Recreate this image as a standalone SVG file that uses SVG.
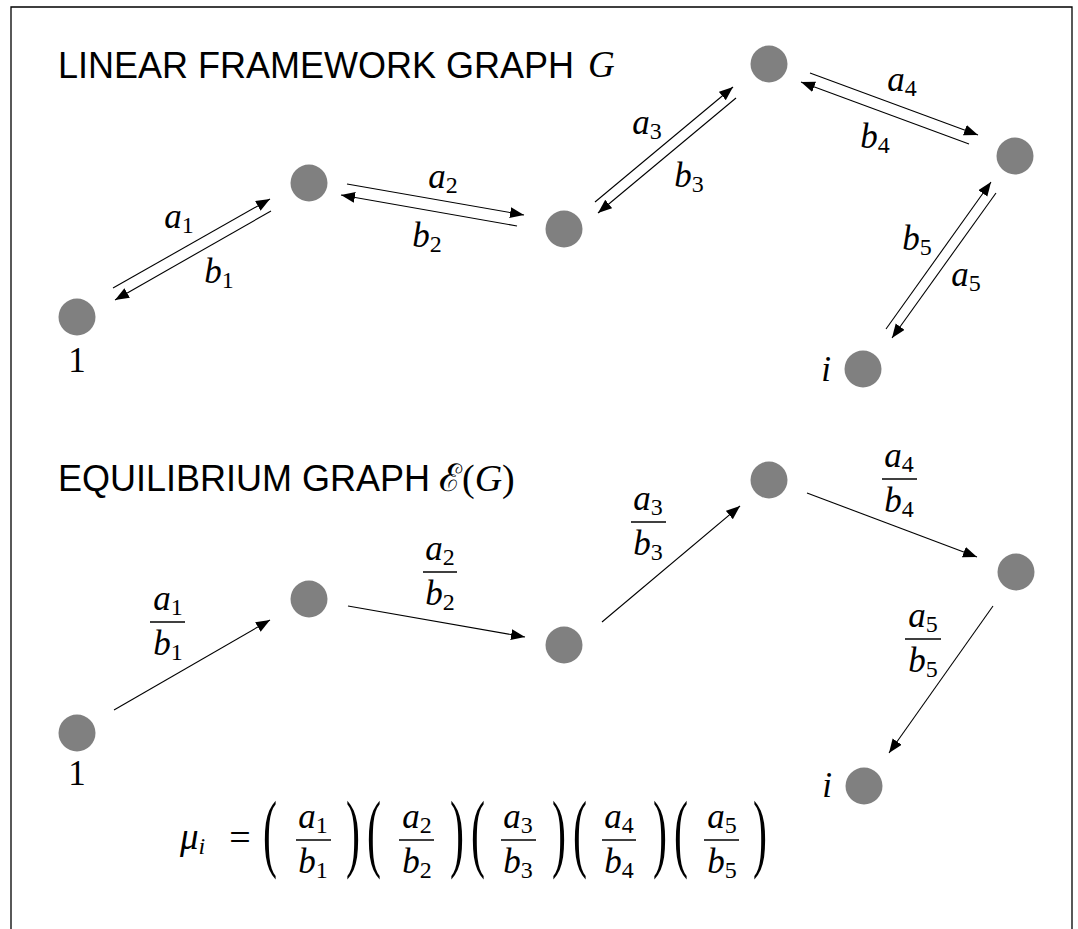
<svg xmlns="http://www.w3.org/2000/svg" width="1078" height="929" viewBox="0 0 1078 929">
<defs>
<style>
.title{font-family:"Liberation Sans",Arial,sans-serif;font-size:36px;fill:#000}
.m{font-family:"Liberation Serif","DejaVu Serif",serif;font-size:35px;fill:#000}
.v{font-style:italic}
.s{font-size:24px;font-style:normal}
.si{font-size:24px;font-style:italic}
.node{fill:#808080}
.edge{stroke:#000;stroke-width:1.1;fill:none;marker-end:url(#arr)}
.bar{stroke:#000;stroke-width:1.4}
.frame{fill:none;stroke:#000;stroke-width:1.3}
.par{font-family:"Liberation Serif","DejaVu Serif",serif;font-size:42px;fill:#000}
</style>
<marker id="arr" markerUnits="userSpaceOnUse" markerWidth="15" markerHeight="12" refX="14" refY="5.5" orient="auto"><path d="M0,0 L14,5.5 L0,11 z" fill="#000"/></marker>
</defs>
<rect width="1078" height="929" fill="#fff"/>
<path class="frame" d="M11,929 V7 H1072 V929"/>

<g id="titles">
<text class="title" x="58" y="78">LINEAR FRAMEWORK GRAPH</text>
<text class="m v" x="588" y="77" style="font-size:37px">G</text>
<text class="title" x="58" y="491">EQUILIBRIUM GRAPH</text>
<text class="m" x="439" y="491" style="font-size:38px">ℰ(<tspan class="v">G</tspan>)</text>
</g>

<g id="top-nodes">
<g id="t1"><circle class="node" cx="77" cy="317" r="18.5"/><text class="m" x="77" y="372" text-anchor="middle">1</text></g>
<g id="t2"><circle class="node" cx="309" cy="183" r="18.5"/></g>
<g id="t3"><circle class="node" cx="564" cy="229" r="18.5"/></g>
<g id="t4"><circle class="node" cx="769" cy="64" r="18.5"/></g>
<g id="t5"><circle class="node" cx="1015" cy="156" r="18.5"/></g>
<g id="ti"><circle class="node" cx="863" cy="369" r="18.5"/><text class="m v" x="826" y="381" text-anchor="middle">i</text></g>
</g>

<g id="bottom-nodes">
<g id="b1"><circle class="node" cx="77" cy="733" r="18.5"/><text class="m" x="77" y="785" text-anchor="middle">1</text></g>
<g id="b2"><circle class="node" cx="309" cy="599" r="18.5"/></g>
<g id="b3"><circle class="node" cx="564" cy="645" r="18.5"/></g>
<g id="b4"><circle class="node" cx="769" cy="480" r="18.5"/></g>
<g id="b5"><circle class="node" cx="1016" cy="572" r="18.5"/></g>
<g id="bi"><circle class="node" cx="864" cy="786" r="18.5"/><text class="m v" x="827" y="797" text-anchor="middle">i</text></g>
</g>

<g id="connectors">
<line class="edge" x1="113" y1="288" x2="270" y2="199"/>
<line class="edge" x1="271" y1="211" x2="115" y2="300"/>
<line class="edge" x1="347" y1="184" x2="524" y2="215"/>
<line class="edge" x1="517" y1="226" x2="341" y2="195"/>
<line class="edge" x1="595" y1="202" x2="733" y2="87"/>
<line class="edge" x1="736" y1="98" x2="598" y2="213"/>
<line class="edge" x1="810" y1="73" x2="978" y2="135"/>
<line class="edge" x1="969" y1="144" x2="801" y2="82"/>
<line class="edge" x1="996" y1="193" x2="892" y2="338"/>
<line class="edge" x1="886" y1="329" x2="991" y2="182"/>

<line class="edge" x1="114" y1="710" x2="270" y2="620"/>
<line class="edge" x1="348" y1="606" x2="525" y2="637"/>
<line class="edge" x1="602" y1="622" x2="740" y2="506"/>
<line class="edge" x1="807" y1="493" x2="977" y2="557"/>
<line class="edge" x1="993" y1="606" x2="889" y2="753"/>
</g>

<g id="top-labels">
<text class="m" x="179" y="228" text-anchor="middle"><tspan class="v">a</tspan><tspan class="s" dy="5">1</tspan></text>
<text class="m" x="219" y="283" text-anchor="middle"><tspan class="v">b</tspan><tspan class="s" dy="5">1</tspan></text>
<text class="m" x="443" y="188" text-anchor="middle"><tspan class="v">a</tspan><tspan class="s" dy="5">2</tspan></text>
<text class="m" x="427" y="247" text-anchor="middle"><tspan class="v">b</tspan><tspan class="s" dy="5">2</tspan></text>
<text class="m" x="647" y="134" text-anchor="middle"><tspan class="v">a</tspan><tspan class="s" dy="5">3</tspan></text>
<text class="m" x="689" y="187" text-anchor="middle"><tspan class="v">b</tspan><tspan class="s" dy="5">3</tspan></text>
<text class="m" x="902" y="91" text-anchor="middle"><tspan class="v">a</tspan><tspan class="s" dy="5">4</tspan></text>
<text class="m" x="875" y="148" text-anchor="middle"><tspan class="v">b</tspan><tspan class="s" dy="5">4</tspan></text>
<text class="m" x="917" y="250" text-anchor="middle"><tspan class="v">b</tspan><tspan class="s" dy="5">5</tspan></text>
<text class="m" x="966" y="286" text-anchor="middle"><tspan class="v">a</tspan><tspan class="s" dy="5">5</tspan></text>
</g>

<g id="bottom-labels">
<text class="m" x="168" y="610" text-anchor="middle"><tspan class="v">a</tspan><tspan class="s" dy="5">1</tspan></text>
<line class="bar" x1="150" y1="622" x2="185" y2="622"/>
<text class="m" x="168" y="655" text-anchor="middle"><tspan class="v">b</tspan><tspan class="s" dy="5">1</tspan></text>
<text class="m" x="440" y="560" text-anchor="middle"><tspan class="v">a</tspan><tspan class="s" dy="5">2</tspan></text>
<line class="bar" x1="423" y1="572" x2="457" y2="572"/>
<text class="m" x="440" y="605" text-anchor="middle"><tspan class="v">b</tspan><tspan class="s" dy="5">2</tspan></text>
<text class="m" x="648" y="510" text-anchor="middle"><tspan class="v">a</tspan><tspan class="s" dy="5">3</tspan></text>
<line class="bar" x1="631" y1="522" x2="666" y2="522"/>
<text class="m" x="648" y="555" text-anchor="middle"><tspan class="v">b</tspan><tspan class="s" dy="5">3</tspan></text>
<text class="m" x="899" y="467" text-anchor="middle"><tspan class="v">a</tspan><tspan class="s" dy="5">4</tspan></text>
<line class="bar" x1="882" y1="479" x2="917" y2="479"/>
<text class="m" x="899" y="512" text-anchor="middle"><tspan class="v">b</tspan><tspan class="s" dy="5">4</tspan></text>
<text class="m" x="923" y="627" text-anchor="middle"><tspan class="v">a</tspan><tspan class="s" dy="5">5</tspan></text>
<line class="bar" x1="905" y1="639" x2="941" y2="639"/>
<text class="m" x="923" y="672" text-anchor="middle"><tspan class="v">b</tspan><tspan class="s" dy="5">5</tspan></text>
</g>

<g id="formula">
<text class="m" x="180" y="849" style="font-size:37px"><tspan class="v">μ</tspan><tspan class="si" dy="5">i</tspan></text>
<text class="m" x="240" y="850" text-anchor="middle" style="font-size:38px">=</text>
<text class="par" text-anchor="middle" transform="translate(270,861) scale(1,2.05)">(</text>
<text class="par" text-anchor="middle" transform="translate(353,861) scale(1,2.05)">)</text>
<text class="par" text-anchor="middle" transform="translate(374,861) scale(1,2.05)">(</text>
<text class="par" text-anchor="middle" transform="translate(457,861) scale(1,2.05)">)</text>
<text class="par" text-anchor="middle" transform="translate(478,861) scale(1,2.05)">(</text>
<text class="par" text-anchor="middle" transform="translate(559,861) scale(1,2.05)">)</text>
<text class="par" text-anchor="middle" transform="translate(580,861) scale(1,2.05)">(</text>
<text class="par" text-anchor="middle" transform="translate(660,861) scale(1,2.05)">)</text>
<text class="par" text-anchor="middle" transform="translate(681,861) scale(1,2.05)">(</text>
<text class="par" text-anchor="middle" transform="translate(760,861) scale(1,2.05)">)</text>
<text class="m" x="313" y="828" text-anchor="middle"><tspan class="v">a</tspan><tspan class="s" dy="5">1</tspan></text>
<line class="bar" x1="296" y1="840" x2="331" y2="840"/>
<text class="m" x="313" y="873" text-anchor="middle"><tspan class="v">b</tspan><tspan class="s" dy="5">1</tspan></text>
<text class="m" x="417" y="828" text-anchor="middle"><tspan class="v">a</tspan><tspan class="s" dy="5">2</tspan></text>
<line class="bar" x1="399" y1="840" x2="434" y2="840"/>
<text class="m" x="417" y="873" text-anchor="middle"><tspan class="v">b</tspan><tspan class="s" dy="5">2</tspan></text>
<text class="m" x="518" y="828" text-anchor="middle"><tspan class="v">a</tspan><tspan class="s" dy="5">3</tspan></text>
<line class="bar" x1="501" y1="840" x2="536" y2="840"/>
<text class="m" x="518" y="873" text-anchor="middle"><tspan class="v">b</tspan><tspan class="s" dy="5">3</tspan></text>
<text class="m" x="619" y="828" text-anchor="middle"><tspan class="v">a</tspan><tspan class="s" dy="5">4</tspan></text>
<line class="bar" x1="602" y1="840" x2="636" y2="840"/>
<text class="m" x="619" y="873" text-anchor="middle"><tspan class="v">b</tspan><tspan class="s" dy="5">4</tspan></text>
<text class="m" x="722" y="828" text-anchor="middle"><tspan class="v">a</tspan><tspan class="s" dy="5">5</tspan></text>
<line class="bar" x1="704" y1="840" x2="739" y2="840"/>
<text class="m" x="722" y="873" text-anchor="middle"><tspan class="v">b</tspan><tspan class="s" dy="5">5</tspan></text>
</g>
</svg>
